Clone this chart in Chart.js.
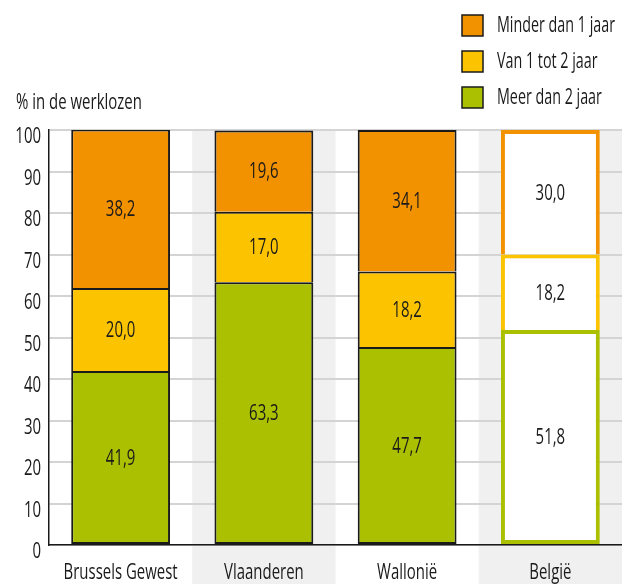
<!DOCTYPE html>
<html>
<head>
<meta charset="utf-8">
<script src="https://cdn.jsdelivr.net/npm/chart.js@4"></script>
<style>
	body { margin: 0; background: #fff; }
	.chartBox { width: 622px; height: 584px; }
</style>
</head>
<body>
<div class="chartBox"><canvas id="myChart"></canvas></div>
<script>
// data
const categories = ['Brussels Gewest', 'Vlaanderen', 'Wallonië', 'België'];
const minderDan1 = [38.2, 19.6, 34.1, 30.0];
const van1tot2 = [20.0, 17.0, 18.2, 18.2];
const meerDan2 = [41.9, 63.3, 47.7, 51.8];
const yTicks = [0, 10, 20, 30, 40, 50, 60, 70, 80, 90, 100];
const legendLabels = ['Minder dan 1 jaar', 'Van 1 tot 2 jaar', 'Meer dan 2 jaar'];
const axisTitle = '% in de werklozen';

const FONT = "'Open Sans', 'DejaVu Sans', sans-serif";
const TEXT = '#1a1a1a';
const SQUEEZE = 0.68; // the original uses a condensed face
const ORANGE = '#f39200';
const YELLOW = '#fcc400';
const GREEN = '#aac000';

// last bar (België) is white with a coloured border
function fills(color) {
	return categories.map((c, i) => (i === 3 ? '#ffffff' : color));
}
function borders(color) {
	return categories.map((c, i) => (i === 3 ? color : TEXT));
}
const widths = categories.map((c, i) => (i === 3 ? 4 : 2));

function narrowText(ctx, txt, x, y, align, squeeze) {
	ctx.save();
	ctx.translate(x, y);
	ctx.scale(squeeze || SQUEEZE, 1);
	ctx.textAlign = align;
	ctx.fillText(txt, 0, 0);
	ctx.restore();
}

// grey bands behind every second category
const bandsPlugin = {
	id: 'bands',
	beforeDraw(chart) {
		const ctx = chart.ctx;
		const x = chart.scales.x;
		const step = x.getPixelForValue(1) - x.getPixelForValue(0);
		ctx.save();
		ctx.fillStyle = '#f0f0f0';
		[1, 3].forEach((i) => {
			const cx = x.getPixelForValue(i);
			ctx.fillRect(cx - step / 2, chart.chartArea.top, step, chart.height);
		});
		ctx.restore();
	},
};

// tick labels, values inside the segments, legend and axis title
const labelsPlugin = {
	id: 'labels',
	afterDraw(chart) {
		const ctx = chart.ctx;
		const xs = chart.scales.x;
		const ys = chart.scales.y;
		ctx.save();
		ctx.font = '500 22px ' + FONT;
		ctx.fillStyle = TEXT;
		ctx.textBaseline = 'middle';

		yTicks.forEach((v) => {
			narrowText(ctx, String(v), 41, ys.getPixelForValue(v) + 7, 'right');
		});
		categories.forEach((c, i) => {
			narrowText(ctx, c, xs.getPixelForValue(i), 573, 'center');
		});

		chart.data.datasets.forEach((ds, di) => {
			const meta = chart.getDatasetMeta(di);
			meta.data.forEach((bar, i) => {
				const v = ds.data[i];
				narrowText(ctx, v.toFixed(1).replace('.', ','), bar.x, (bar.y + bar.base) / 2 + 1, 'center');
			});
		});

		// legend
		const cols = [ORANGE, YELLOW, GREEN];
		legendLabels.forEach((txt, i) => {
			const y = 15 + i * 36;
			ctx.fillStyle = cols[i];
			ctx.fillRect(462, y, 21, 21);
			ctx.strokeStyle = TEXT;
			ctx.lineWidth = 1.5;
			ctx.strokeRect(462, y, 21, 21);
			ctx.fillStyle = TEXT;
			narrowText(ctx, txt, 497, y + 11, 'left', 0.65);
		});

		// axis title
		narrowText(ctx, axisTitle, 16, 103, 'left');
		ctx.restore();
	},
};

const data = {
	labels: categories,
	datasets: [
		{
			label: legendLabels[2],
			data: meerDan2,
			backgroundColor: fills(GREEN),
			borderColor: borders(GREEN),
			borderWidth: widths,
			borderSkipped: false,
		},
		{
			label: legendLabels[1],
			data: van1tot2,
			backgroundColor: fills(YELLOW),
			borderColor: borders(YELLOW),
			borderWidth: widths,
			borderSkipped: 'bottom',
		},
		{
			label: legendLabels[0],
			data: minderDan1,
			backgroundColor: fills(ORANGE),
			borderColor: borders(ORANGE),
			borderWidth: widths,
			borderSkipped: 'bottom',
		},
	],
};

const config = {
	type: 'bar',
	data,
	options: {
		responsive: true,
		maintainAspectRatio: false,
		animation: false,
		layout: { padding: { top: 130, left: 0, right: 0, bottom: 0 } },
		datasets: {
			bar: { categoryPercentage: 1, barPercentage: 0.69 },
		},
		plugins: {
			legend: { display: false },
			tooltip: { enabled: false },
		},
		scales: {
			x: {
				stacked: true,
				grid: { display: false, drawTicks: false },
				border: { color: TEXT, width: 1.5 },
				ticks: { display: false },
				afterFit(scale) {
					scale.height = 39;
				},
			},
			y: {
				stacked: true,
				min: 0,
				max: 100,
				afterBuildTicks(scale) {
					scale.ticks = yTicks.map((v) => ({ value: v }));
				},
				grid: { color: '#d4d4d4', lineWidth: 2, drawTicks: false },
				border: { color: TEXT, width: 1.5 },
				ticks: { display: false },
				afterFit(scale) {
					scale.width = 49;
				},
			},
		},
	},
	plugins: [bandsPlugin, labelsPlugin],
};

const myChart = new Chart(document.getElementById('myChart'), config);
</script>
</body>
</html>
